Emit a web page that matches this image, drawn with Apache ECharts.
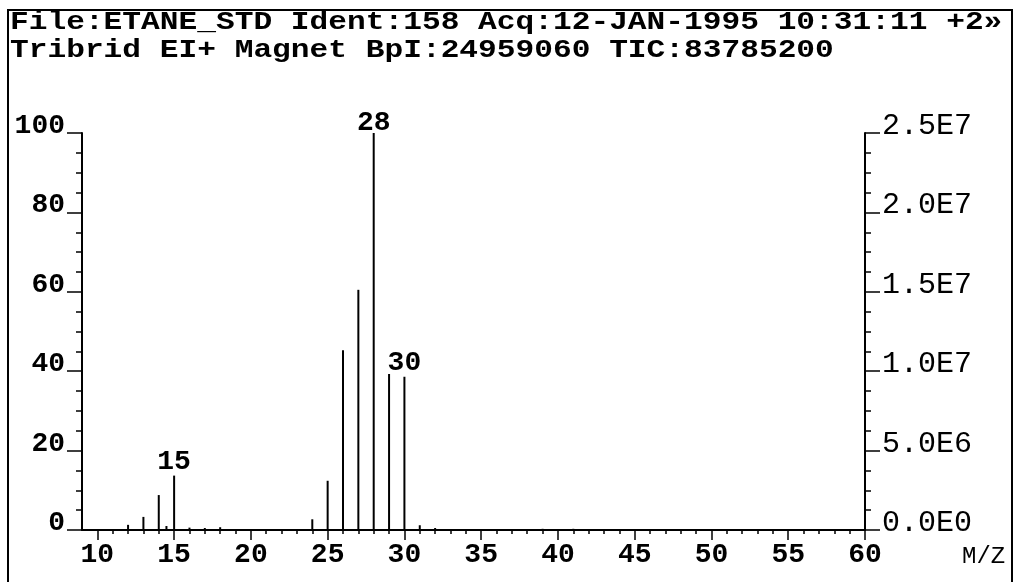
<!DOCTYPE html>
<html><head><meta charset="utf-8">
<script src="https://cdn.jsdelivr.net/npm/echarts@6/dist/echarts.min.js"></script>
<style>html,body{margin:0;padding:0;background:#fff}#c{width:1019px;height:582px}</style>
</head><body><div id="c"></div>
<script>
// m/z values of the peaks and their relative intensity (% of base peak)
const mzValues     = [12, 13, 14, 14.5, 15, 16, 17, 18, 24, 25, 26, 27, 28, 29, 30, 31, 32, 39, 41];
const relIntensity = [1.3, 3.3, 8.8, 1.0, 13.7, 0.6, 0.5, 0.7, 2.7, 12.4, 45.3, 60.5, 100, 39.3, 38.6, 1.2, 0.5, 0.3, 0.3];
const labelledPeaks = [15, 28, 30];
const xTickLabels = [10, 15, 20, 25, 30, 35, 40, 45, 50, 55, 60];
const xMinorTicks = [10,11,12,13,14,15,16,17,18,19,20,21,22,23,24,25,26,27,28,29,30,31,32,33,34,35,36,37,38,39,40,41,42,43,44,45,46,47,48,49,50,51,52,53,54,55,56,57,58,59,60];
const leftTickLabels = [0, 20, 40, 60, 80, 100];
const rightTickLabels = [0, 5000000, 10000000, 15000000, 20000000, 25000000];
const headerLines = ['File:ETANE_STD Ident:158 Acq:12-JAN-1995 10:31:11 +2\u00bb',
                     'Tribrid EI+ Magnet BpI:24959060 TIC:83785200'];
const xName = 'M/Z';

const FONT = '"Liberation Mono", "DejaVu Sans Mono", monospace';
const chart = echarts.init(document.getElementById('c'), null, {renderer: 'canvas'});

const seriesData = mzValues.map((m, i) => {
  const item = {value: [m, relIntensity[i]]};
  if (labelledPeaks.includes(m)) {
    item.label = {show: true, formatter: String(m), distance: m === 28 ? -2 : 2};
  }
  return item;
});

const expFmt = v => Number(v).toExponential(1).toUpperCase().replace('E+', 'E');

chart.setOption({
  animation: false,
  backgroundColor: '#fff',
  grid: {left: 82, right: 154, top: 133, bottom: 52},
  graphic: [
    {type: 'rect', shape: {x: 8, y: 10, width: 1004, height: 590},
     style: {fill: 'none', stroke: '#000', lineWidth: 2}, silent: true},
    {type: 'text', x: 10, y: 9, scaleX: 1.2, scaleY: 1,
     style: {text: headerLines[0], font: 'bold 26px ' + FONT, fill: '#000'}},
    {type: 'text', x: 10, y: 37, scaleX: 1.2, scaleY: 1,
     style: {text: headerLines[1], font: 'bold 26px ' + FONT, fill: '#000'}},
    {type: 'text', x: 962, y: 545,
     style: {text: xName, font: '24px ' + FONT, fill: '#000'}}
  ],
  xAxis: [
    {type: 'value', min: 9, max: 60, interval: 1, position: 'bottom',
     axisLine: {show: true, onZero: false, lineStyle: {color: '#000', width: 2}},
     axisTick: {show: true, length: 4, customValues: xMinorTicks, lineStyle: {color: '#000', width: 1.5}},
     axisLabel: {show: false}, splitLine: {show: false}},
    {type: 'value', min: 9, max: 60, interval: 1, position: 'bottom',
     axisLine: {show: false, onZero: false},
     axisTick: {show: true, length: 10, customValues: xTickLabels, lineStyle: {color: '#000', width: 1.5}},
     axisLabel: {show: true, customValues: xTickLabels, fontSize: 28, fontWeight: 'bold',
                 fontFamily: FONT, color: '#000', margin: 11},
     splitLine: {show: false}}
  ],
  yAxis: [
    {type: 'value', min: 0, max: 100, interval: 20, position: 'left',
     axisLine: {show: true, lineStyle: {color: '#000', width: 2}},
     axisTick: {show: true, length: 15, customValues: leftTickLabels, lineStyle: {color: '#000', width: 1.5}},
     minorTick: {show: true, splitNumber: 4, length: 6, lineStyle: {color: '#000', width: 1.5}},
     axisLabel: {customValues: leftTickLabels, fontSize: 28, fontWeight: 'bold', fontFamily: FONT,
                 color: '#000', margin: 17, verticalAlign: 'bottom', lineHeight: 14},
     splitLine: {show: false}},
    {type: 'value', min: 0, max: 25000000, interval: 5000000, position: 'right',
     axisLine: {show: true, lineStyle: {color: '#000', width: 2}},
     axisTick: {show: true, length: 15, customValues: rightTickLabels, lineStyle: {color: '#000', width: 1.5}},
     minorTick: {show: true, splitNumber: 4, length: 6, lineStyle: {color: '#000', width: 1.5}},
     axisLabel: {customValues: rightTickLabels, formatter: expFmt, fontSize: 30, fontFamily: FONT,
                 color: '#000', margin: 17, verticalAlign: 'bottom', lineHeight: 14},
     splitLine: {show: false}}
  ],
  series: [{
    type: 'bar', xAxisIndex: 0, yAxisIndex: 0, barWidth: 2,
    itemStyle: {color: '#000'},
    label: {show: false, position: 'top', distance: 2, fontSize: 28, fontWeight: 'bold',
            fontFamily: FONT, color: '#000', lineHeight: 24},
    data: seriesData
  }]
});
</script>
</body></html>
